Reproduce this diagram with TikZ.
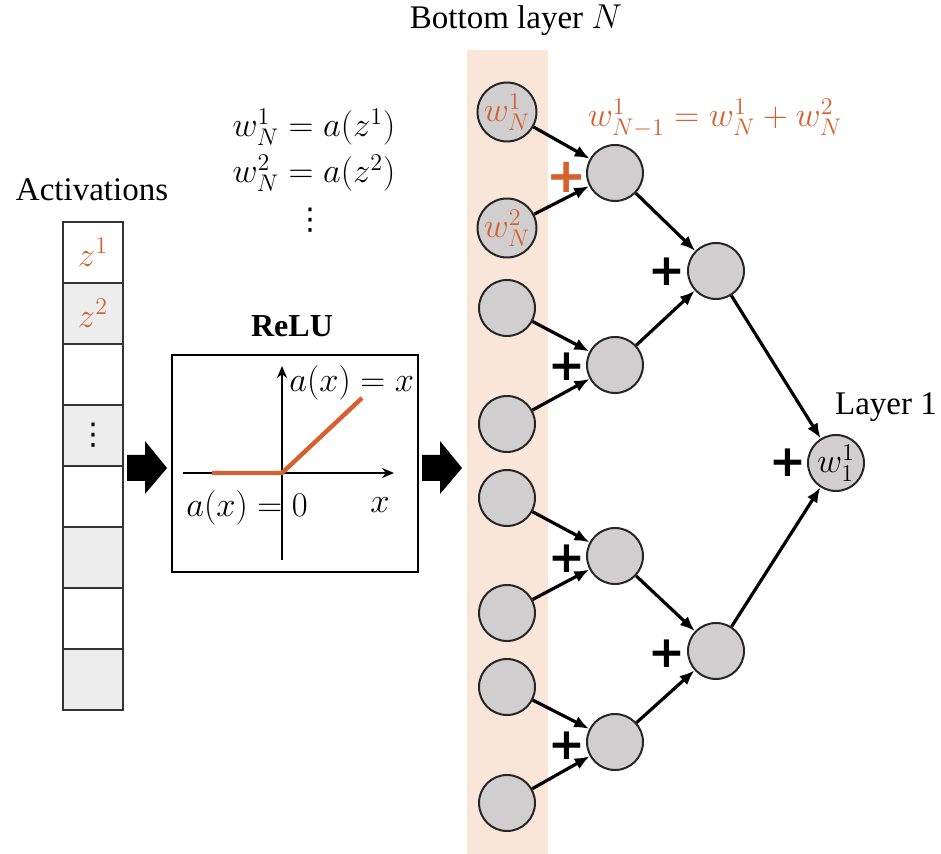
\documentclass[tikz,border=0pt]{standalone}
\usepackage{fontspec}
\setmainfont{Liberation Serif}
\newfontfamily\dejavu{DejaVu Sans}
\usetikzlibrary{arrows.meta}
\definecolor{org}{RGB}{214,96,46}
\definecolor{band}{RGB}{250,230,216}
\definecolor{cgrey}{RGB}{208,206,206}
\definecolor{cellgrey}{RGB}{237,237,237}
\begin{document}
\begin{tikzpicture}[x=0.5pt,y=-0.5pt,
  every node/.style={font=\fontsize{16.5}{19}\selectfont},
  mth/.style={font=\fontsize{17}{20}\selectfont, inner sep=0pt},
  dotsty/.style={font=\dejavu\fontsize{15}{18}\selectfont, inner sep=0pt},
  cellbox/.style={draw=black!80, line width=1pt, minimum width=30pt, minimum height=30.5pt, inner sep=0pt},
  circ/.style={circle, draw=black!85, line width=1pt, fill=cgrey, minimum size=28pt, inner sep=0pt, font=\fontsize{17}{20}\selectfont},
  conn/.style={-{Latex[length=7.5pt,width=6pt]}, line width=1.6pt},
  plus/.style={font=\dejavu\bfseries\fontsize{22}{24}\selectfont, inner sep=0pt},
  blockarrow/.style={fill=black}
]
\useasboundingbox (0,0) rectangle (941,854);
% band
\fill[band] (467,50) rectangle (548,854);
\node (bottom) at (516,20) {Bottom layer $N$};

% activations
\node (act) at (92,190) {Activations};
\node[cellbox, fill=white]    (c1) at (93,252.5) {};
\node[cellbox, fill=cellgrey] (c2) at (93,313.5) {};
\node[cellbox, fill=white]    (c3) at (93,374.5) {};
\node[cellbox, fill=cellgrey] (c4) at (93,435.5) {};
\node[cellbox, fill=white]    (c5) at (93,496.5) {};
\node[cellbox, fill=cellgrey] (c6) at (93,557.5) {};
\node[cellbox, fill=white]    (c7) at (93,618.5) {};
\node[cellbox, fill=cellgrey] (c8) at (93,679.5) {};
\node[mth, text=org] (z1) at (c1) {$z^1$};
\node[mth, text=org] (z2) at (c2) {$z^2$};
\node[dotsty] (cdots) at (c4) {⋮};

% block arrows
\fill[blockarrow] (127,455) -- (145,455) -- (145,441) -- (167,468) -- (145,494) -- (145,481) -- (127,481) -- cycle;
\fill[blockarrow] (422,455) -- (440,455) -- (440,441) -- (462,468) -- (440,494) -- (440,481) -- (422,481) -- cycle;

% ReLU box
\node[font=\fontsize{16}{19}\selectfont\bfseries] (relulabel) at (292,326) {ReLU};
\node[draw, line width=1pt, minimum width=123pt, minimum height=108.5pt, inner sep=0pt] (relu) at (295,463.5) {};
\draw[line width=1.3pt, -{Stealth[length=6pt,width=5pt]}] (183,473) -- (394,473);
\draw[line width=1.3pt, -{Stealth[length=6pt,width=5pt]}] (282,560) -- (282,366);
\draw[org, line width=2.2pt, line join=round] (212,473) -- (282,473) -- (362,398);
\node[mth, anchor=west] (ax) at (289,383) {$a(x) = x$};
\node[mth, anchor=west] (a0) at (186,508) {$a(x) = 0$};
\node[mth] (xl) at (380,505) {$x$};

% equations
\node[mth] (eq1) at (314,127) {$w_N^1 = a(z^1)$};
\node[mth] (eq2) at (314,173) {$w_N^2 = a(z^2)$};
\node[dotsty] (eqd) at (310,220) {⋮};

% tree nodes
\node[circ] (b1) at (507,112) {\color{org}$w_N^1$};
\node[circ] (b2) at (507,228) {\color{org}$w_N^2$};
\node[circ] (b3) at (507,308) {};
\node[circ] (b4) at (507,424) {};
\node[circ] (b5) at (507,498) {};
\node[circ] (b6) at (507,613) {};
\node[circ] (b7) at (507,687) {};
\node[circ] (b8) at (507,803) {};
\node[circ] (l1) at (615,173) {};
\node[circ] (l2) at (615,365) {};
\node[circ] (l3) at (615,556) {};
\node[circ] (l4) at (615,742) {};
\node[circ] (m1) at (716,271) {};
\node[circ] (m2) at (716,651) {};
\node[circ] (t) at (836,463) {$w_1^1$};

\draw[conn] (b1) -- (l1);
\draw[conn] (b2) -- (l1);
\draw[conn] (b3) -- (l2);
\draw[conn] (b4) -- (l2);
\draw[conn] (b5) -- (l3);
\draw[conn] (b6) -- (l3);
\draw[conn] (b7) -- (l4);
\draw[conn] (b8) -- (l4);
\draw[conn] (l1) -- (m1);
\draw[conn] (l2) -- (m1);
\draw[conn] (l3) -- (m2);
\draw[conn] (l4) -- (m2);
\draw[conn] (m1) -- (t);
\draw[conn] (m2) -- (t);

% plus signs
\node[plus, text=org, font=\dejavu\bfseries\fontsize{24}{26}\selectfont] (p1) at (567,177) {+};
\node[plus] (p2) at (567,367) {+};
\node[plus] (p3) at (567,559) {+};
\node[plus] (p4) at (567,746) {+};
\node[plus] (p5) at (667,272) {+};
\node[plus] (p6) at (667,654) {+};
\node[plus] (p7) at (788,463) {+};

% labels
\node[mth, text=org] (sumlabel) at (715,118) {$w_{N-1}^1 = w_N^1 + w_N^2$};
\node (layer1) at (886,407) {Layer 1};
\end{tikzpicture}
\end{document}
